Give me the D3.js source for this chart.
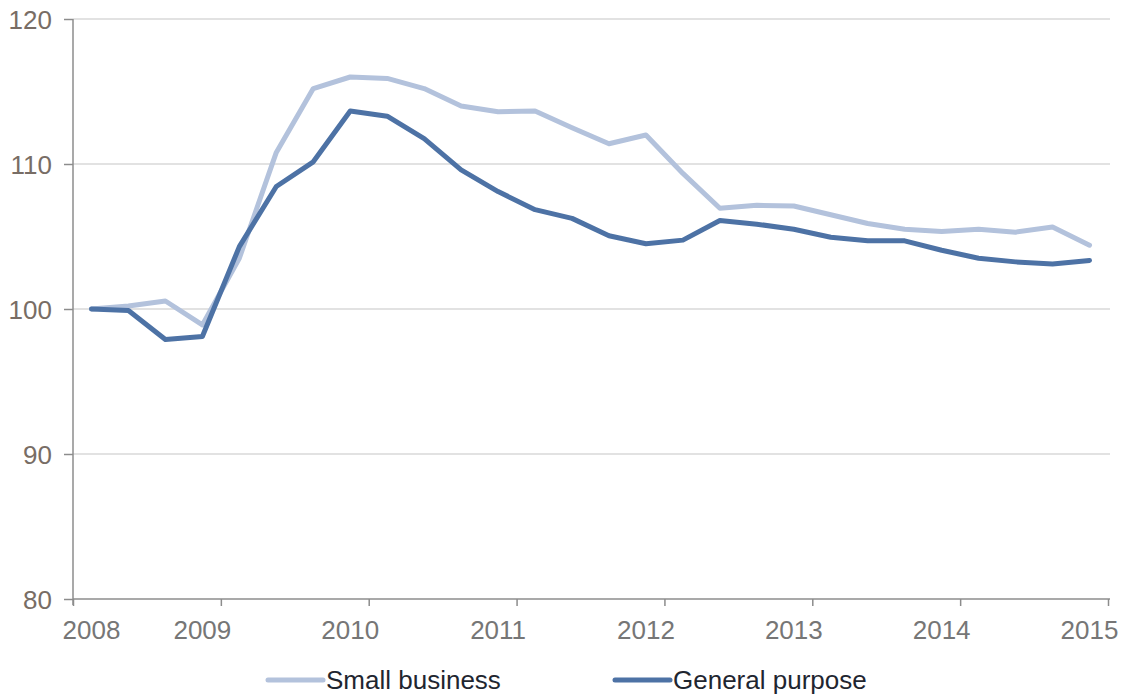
<!DOCTYPE html>
<html>
<head>
<meta charset="utf-8">
<script src="https://cdn.jsdelivr.net/npm/d3@7"></script>
<style>
  html, body { margin: 0; padding: 0; background: #ffffff; }
  svg { display: block; font-family: "Liberation Sans", Arial, sans-serif; }
</style>
</head>
<body>
<svg id="chart" width="1124" height="696"></svg>
<script>
// ---- Data (quarterly index, 2008 Q1 = 100) ----
const quarters = [
  "2008Q1","2008Q2","2008Q3","2008Q4",
  "2009Q1","2009Q2","2009Q3","2009Q4",
  "2010Q1","2010Q2","2010Q3","2010Q4",
  "2011Q1","2011Q2","2011Q3","2011Q4",
  "2012Q1","2012Q2","2012Q3","2012Q4",
  "2013Q1","2013Q2","2013Q3","2013Q4",
  "2014Q1","2014Q2","2014Q3","2014Q4"
];
const smallBusiness = [
  100.0, 100.2, 100.55, 98.9,
  103.5, 110.8, 115.2, 116.0,
  115.9, 115.2, 114.0, 113.6,
  113.65, 112.5, 111.4, 112.0,
  109.35, 106.95, 107.15, 107.1,
  106.5, 105.9, 105.5, 105.35,
  105.5, 105.3, 105.65, 104.4
];
const generalPurpose = [
  100.0, 99.9, 97.9, 98.1,
  104.3, 108.45, 110.15, 113.65,
  113.3, 111.75, 109.6, 108.1,
  106.85, 106.25, 105.05, 104.5,
  104.75, 106.1, 105.85, 105.5,
  104.95, 104.7, 104.7, 104.05,
  103.5, 103.25, 103.1, 103.35
];
const yearTicks = [2008, 2009, 2010, 2011, 2012, 2013, 2014, 2015];
const yTicks = [80, 90, 100, 110, 120];
const seriesNames = ["Small business", "General purpose"];
const seriesColors = ["#b3c2dc", "#4d72a5"];

// ---- Layout ----
const svg = d3.select("#chart");
const mLeft = 73, mRight = 1108, mTop = 19, mBottom = 599;

const qToYear = q => +q.slice(0, 4) + (+q.slice(5) - 1) * 0.25 + 0.125;

const x = d3.scaleLinear().domain([2008, 2015]).range([mLeft, mRight]);
const y = d3.scaleLinear().domain([80, 120]).range([mBottom, mTop]);

// gridlines
svg.append("g")
  .selectAll("line")
  .data(yTicks.filter(v => v !== 80))
  .join("line")
  .attr("x1", mLeft).attr("x2", 1110)
  .attr("y1", d => y(d)).attr("y2", d => y(d))
  .attr("stroke", "#d9d9d9").attr("stroke-width", 1.3);

// y axis
const yAxis = svg.append("g")
  .attr("transform", `translate(${mLeft},0)`)
  .call(d3.axisLeft(y).tickValues(yTicks).tickSize(9).tickSizeOuter(0).tickFormat(d3.format("d")));
yAxis.select(".domain").attr("stroke", "#8c8c8c").attr("stroke-width", 1.5)
  .attr("d", `M0,${mTop}V${mBottom + 6}`);
yAxis.selectAll(".tick line").attr("stroke", "#8c8c8c").attr("stroke-width", 1.5);
yAxis.selectAll(".tick text")
  .attr("x", -21).attr("dy", "0.35em")
  .attr("fill", "#786d65").attr("font-size", 26);

// x axis
const xAxis = svg.append("g")
  .attr("transform", `translate(0,${mBottom})`)
  .call(d3.axisBottom(x).tickValues(yearTicks).tickSize(7).tickSizeOuter(0).tickFormat(""));
xAxis.select(".domain").attr("stroke", "#8c8c8c").attr("stroke-width", 1.5)
  .attr("d", `M${mLeft},0H${1110}`);
xAxis.selectAll(".tick line").attr("stroke", "#8c8c8c").attr("stroke-width", 1.5);

// x labels (Excel date-axis style placement)
svg.append("g")
  .selectAll("text")
  .data(yearTicks)
  .join("text")
  .attr("x", (d, i) => i === 0 ? x(d + 0.125) : x(d - 0.125))
  .attr("y", 639)
  .attr("text-anchor", "middle")
  .attr("fill", "#767676")
  .attr("font-size", 26)
  .text(d => d);

// lines
const line = d3.line()
  .x((d, i) => x(qToYear(quarters[i])))
  .y(d => y(d));

[smallBusiness, generalPurpose].forEach((s, k) => {
  svg.append("path")
    .datum(s)
    .attr("d", line)
    .attr("fill", "none")
    .attr("stroke", seriesColors[k])
    .attr("stroke-width", 5)
    .attr("stroke-linejoin", "round")
    .attr("stroke-linecap", "round");
});

// legend
const legendX = [268, 615];
const lg = svg.append("g");
seriesNames.forEach((name, k) => {
  lg.append("line")
    .attr("x1", legendX[k]).attr("x2", legendX[k] + 55)
    .attr("y1", 680).attr("y2", 680)
    .attr("stroke", seriesColors[k]).attr("stroke-width", 5)
    .attr("stroke-linecap", "round");
  lg.append("text")
    .attr("x", legendX[k] + 58).attr("y", 689)
    .attr("fill", "#1f2630").attr("font-size", 26)
    .text(name);
});
</script>
</body>
</html>
